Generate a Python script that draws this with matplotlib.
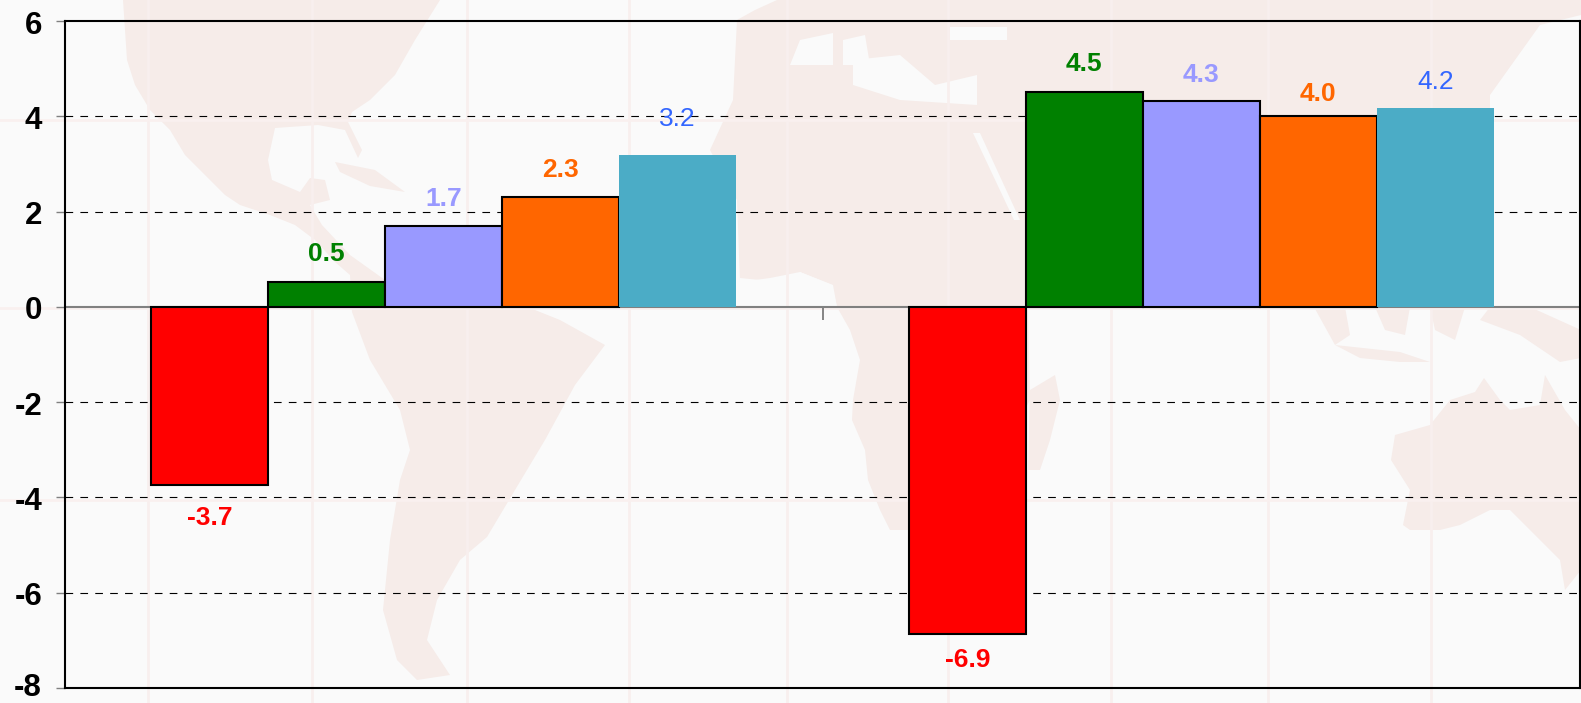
import matplotlib

matplotlib.use("Agg")
import matplotlib.pyplot as plt
import numpy as np
from matplotlib.transforms import ScaledTranslation

plt.rcParams["font.family"] = ["Liberation Sans", "DejaVu Sans"]
plt.rcParams["axes.unicode_minus"] = False

WIDTH, HEIGHT = 1581, 703

# bar values, one list per series
categories = [0, 1]
series_a = [-3.73, -6.87]
series_b = [0.53, 4.51]
series_c = [1.70, 4.33]
series_d = [2.31, 4.01]
series_e = [3.19, 4.18]
value_labels = [
    ["-3.7", "-6.9"],
    ["0.5", "4.5"],
    ["1.7", "4.3"],
    ["2.3", "4.0"],
    ["3.2", "4.2"],
]
y_ticks = [-8, -6, -4, -2, 0, 2, 4, 6]

bar_colors = ["#ff0000", "#008000", "#9999ff", "#ff6600", "#4bacc6"]
label_colors = ["#ff0000", "#008000", "#9999ff", "#ff6600", "#3366ff"]
# label distance from the bar end, in pixels
label_gaps = [[33, 26], [28, 28], [27, 26], [27, 22], [36, 26]]

# faint world map behind the chart, in image pixels
land = [
    [(123, 0), (125, 30), (127, 60), (135, 85), (150, 110), (170, 130), (185, 155),
     (205, 175), (225, 195), (240, 205), (270, 215), (295, 225), (315, 240),
     (335, 262), (350, 275), (352, 312), (370, 360), (400, 410), (410, 450),
     (400, 480), (390, 540), (383, 610), (397, 660), (417, 680), (450, 675),
     (427, 640), (437, 600), (460, 560), (487, 537), (515, 490), (545, 440),
     (575, 385), (605, 345), (560, 320), (510, 300), (480, 282), (430, 272),
     (385, 280), (350, 255), (322, 225), (310, 205), (330, 200), (325, 180),
     (310, 178), (300, 192), (272, 180), (268, 160), (275, 128), (318, 125),
     (345, 130), (358, 158), (362, 150), (348, 122), (352, 112), (370, 100),
     (395, 75), (415, 40), (440, 0)],
    [(335, 162), (375, 170), (405, 192), (370, 186), (340, 172)],
    [(777, 0), (1517, 0), (1581, 0), (1581, 15), (1540, 25), (1515, 60),
     (1490, 95), (1490, 307), (1028, 307), (1030, 400), (960, 530), (890, 530),
     (880, 510), (868, 480), (865, 450), (852, 420), (853, 400), (860, 360),
     (850, 330), (837, 307), (832, 285), (800, 272), (770, 278), (740, 282),
     (737, 200), (710, 150), (733, 100), (737, 20), (755, 10)],
    [(1030, 390), (1055, 375), (1060, 400), (1050, 440), (1040, 470), (1028, 470)],
    [(1391, 460), (1395, 435), (1430, 425), (1450, 400), (1475, 392), (1484, 378),
     (1500, 400), (1510, 410), (1540, 405), (1545, 375), (1565, 410), (1581, 430),
     (1581, 570), (1565, 590), (1560, 560), (1530, 530), (1510, 510), (1490, 510),
     (1460, 525), (1440, 530), (1410, 530), (1403, 525), (1410, 490)],
    [(1314, 307), (1345, 307), (1350, 335), (1335, 345)],
    [(1335, 345), (1400, 352), (1430, 362), (1400, 362), (1360, 358)],
    [(1375, 307), (1410, 307), (1405, 335), (1385, 330)],
    [(1430, 307), (1465, 307), (1455, 340), (1435, 330)],
    [(1480, 320), (1520, 335), (1560, 362), (1581, 358), (1581, 330), (1530, 307), (1490, 307)],
]
seas = [
    [(853, 60), (900, 55), (935, 85), (977, 75), (977, 105), (900, 100), (853, 85)],
    [(950, 27), (1007, 27), (1007, 40), (950, 40)],
    [(790, 65), (800, 40), (833, 33), (833, 65)],
    [(843, 40), (865, 35), (870, 65), (843, 65)],
    [(973, 133), (980, 133), (1020, 220), (1014, 220)],
    [(740, 278), (790, 283), (800, 272), (833, 285), (837, 307), (740, 307)],
]
meridians = [148, 312, 467, 629, 787, 948, 1111, 1268, 1431]
parallels = [120, 308, 500]

fig = plt.figure(figsize=(WIDTH / 100, HEIGHT / 100), dpi=100, facecolor="#fafafa")

bg = fig.add_axes([0, 0, 1, 1], zorder=0)
bg.set_xlim(0, WIDTH)
bg.set_ylim(HEIGHT, 0)
bg.axis("off")
for poly in land:
    bg.fill(*zip(*poly), color="#f6ece9", lw=0)
for poly in seas:
    bg.fill(*zip(*poly), color="#fafafa", lw=0)
for x in meridians:
    bg.axvline(x, color="#f8efee", lw=2)
for y in parallels:
    bg.axhline(y, color="#f9f0ef", lw=2)

ax = fig.add_axes(
    [65 / WIDTH, 1 - 688 / HEIGHT, (1580 - 65) / WIDTH, (688 - 21) / HEIGHT], zorder=1
)
ax.patch.set_alpha(0)
ax.set_xlim(-0.5, 1.5)
ax.set_ylim(-8, 6)

bar_width = 117 / 757.5
all_series = [series_a, series_b, series_c, series_d, series_e]
x = np.array(categories, dtype=float)
for i, values in enumerate(all_series):
    pos = x + (i - 2) * bar_width
    edge = "none" if i == 4 else "black"
    ax.bar(pos, values, bar_width, color=bar_colors[i], edgecolor=edge, lw=1.5, zorder=3)
    for j, v in enumerate(values):
        gap = label_gaps[i][j] * 0.72
        ax.annotate(
            value_labels[i][j],
            (pos[j], v),
            xytext=(0, gap if v > 0 else -gap),
            textcoords="offset points",
            ha="center",
            va="center",
            fontsize=19,
            fontweight="normal" if i == 4 else "bold",
            color=label_colors[i],
            zorder=4,
        )

for y in y_ticks[1:-1]:
    if y != 0:
        ax.axhline(y, color="black", lw=0.8, dashes=(6.9, 6.5), zorder=2)
ax.axhline(0, color="#808080", lw=1.5, zorder=2.5)
ax.vlines(0.5, -0.27, 0, color="#707070", lw=1.2, zorder=2)

ax.set_xticks([])
ax.set_yticks(y_ticks)
ax.set_yticklabels([str(t) for t in y_ticks])
ax.tick_params(axis="y", length=6.5, width=1, color="#808080", pad=10, labelsize=22.5)
# nudge the tick labels one pixel down, the lowest one up so it stays on the image
for t, lab in zip(y_ticks, ax.get_yticklabels()):
    dy = 3 / 100 if t == -8 else -1 / 100
    lab.set_fontweight("bold")
    lab.set_transform(lab.get_transform() + ScaledTranslation(0, dy, fig.dpi_scale_trans))
for spine in ax.spines.values():
    spine.set_linewidth(1.5)
    spine.set_color("black")

fig.savefig("out.png", dpi=100, facecolor=fig.get_facecolor())
